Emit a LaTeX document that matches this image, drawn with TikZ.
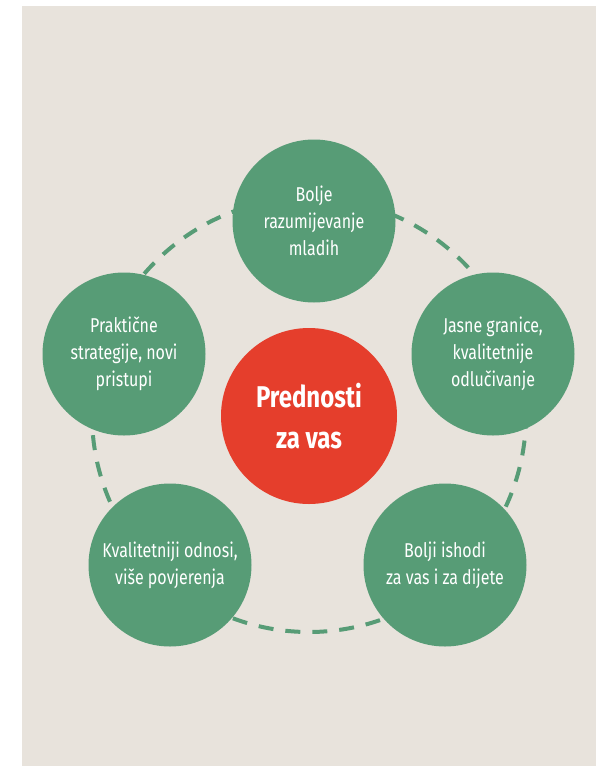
\documentclass[tikz,border=0pt]{standalone}
\usepackage{fontspec}
\setmainfont{Fira Sans}[FakeStretch=0.8]
\usepackage{xcolor}
\definecolor{bgbeige}{HTML}{E8E3DC}
\definecolor{leafgreen}{HTML}{579C76}
\definecolor{tomato}{HTML}{E53E2C}

\begin{document}
\begin{tikzpicture}
  [x=1pt,y=-1pt,every node/.style={circle,fill=leafgreen,text=white,minimum size=163pt,
   inner sep=0pt,align=center,font=\fontsize{20}{27}\selectfont}]
  \useasboundingbox (0,0) rectangle (600,766);
  \fill[bgbeige] (22,6) rectangle (596,766);
  \draw[leafgreen,line width=4pt,dash pattern=on 15pt off 12pt] (309,415) circle (217pt);
  \node (n1) at (314,221) {Bolje\\razumijevanje\\mladih};
  \node (n2) at (493,354) {Jasne granice,\\kvalitetnije\\odlučivanje};
  \node (n3) at (445,565) {Bolji ishodi\\za vas i za dijete};
  \node (n4) at (170,565) {Kvalitetniji odnosi,\\više povjerenja};
  \node (n5) at (124,354) {Praktične\\strategije, novi\\pristupi};
  \node (c) [fill=tomato,minimum size=176pt,font=\bfseries\fontsize{30}{41}\selectfont]
    at (309,416) {Prednosti\\za vas};
\end{tikzpicture}
\end{document}
